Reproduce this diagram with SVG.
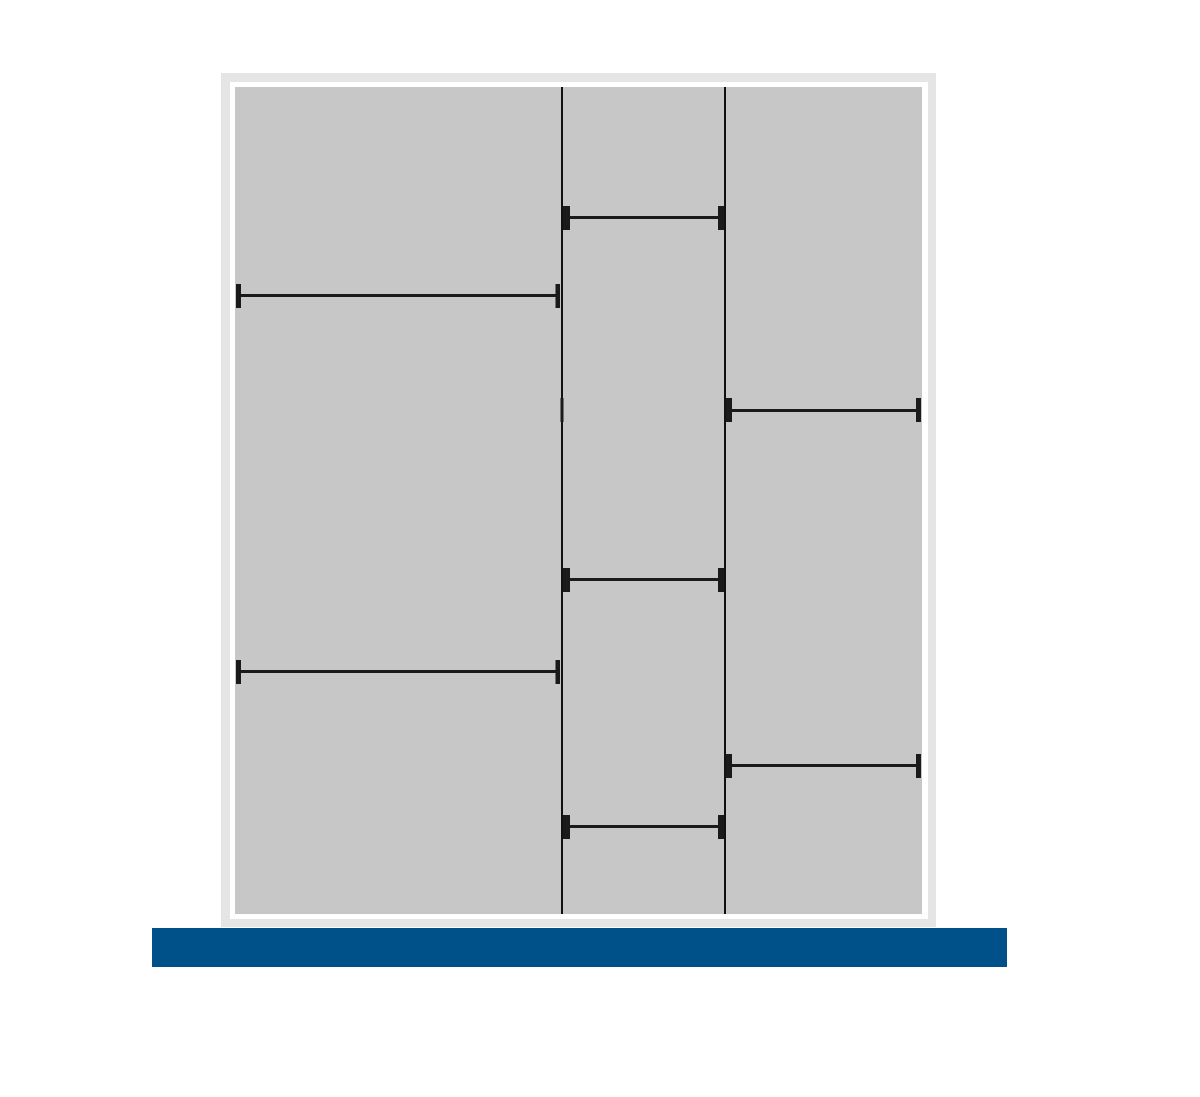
<svg xmlns="http://www.w3.org/2000/svg" width="1200" height="1097" viewBox="0 0 1200 1097">
<style>
.cap{fill:#1a1a1a}
.bar{stroke:#1a1a1a;stroke-width:3}
.wall{stroke:#111;stroke-width:2}
</style>
<rect width="1200" height="1097" fill="#fff"/>
<g id="frame">
<rect x="221" y="73" width="715" height="854" fill="#e5e5e5"/>
<rect x="230" y="82" width="698" height="837" fill="#fff"/>
<rect x="235" y="87" width="687" height="827" fill="#c6c7c6"/>
</g>
<g id="walls">
<line class="wall" x1="562" y1="87" x2="562" y2="914"/>
<line class="wall" x1="725" y1="87" x2="725" y2="914"/>
<rect x="560.5" y="398" width="3" height="24" class="cap"/>
</g>
<g id="dividers">
<line class="bar" x1="239" y1="295.5" x2="558" y2="295.5"/>
<rect class="cap" x="236" y="284" width="5" height="24"/>
<rect class="cap" x="555.5" y="284" width="4.5" height="24"/>
<line class="bar" x1="239" y1="671.5" x2="558" y2="671.5"/>
<rect class="cap" x="236" y="660" width="5" height="24"/>
<rect class="cap" x="555.5" y="660" width="4.5" height="24"/>
<line class="bar" x1="566" y1="217.5" x2="721" y2="217.5"/>
<rect class="cap" x="563" y="206" width="7" height="24"/>
<rect class="cap" x="718" y="206" width="6" height="24"/>
<line class="bar" x1="566" y1="579.5" x2="721" y2="579.5"/>
<rect class="cap" x="563" y="568" width="7" height="24"/>
<rect class="cap" x="718" y="568" width="6" height="24"/>
<line class="bar" x1="566" y1="826.5" x2="721" y2="826.5"/>
<rect class="cap" x="563" y="815" width="7" height="24"/>
<rect class="cap" x="718" y="815" width="6" height="24"/>
<line class="bar" x1="729" y1="410.5" x2="918" y2="410.5"/>
<rect class="cap" x="726" y="398" width="6" height="24"/>
<rect class="cap" x="916" y="398" width="5" height="24"/>
<line class="bar" x1="729" y1="765.5" x2="918" y2="765.5"/>
<rect class="cap" x="726" y="754" width="6" height="24"/>
<rect class="cap" x="916" y="754" width="5" height="24"/>
</g>
<g id="base">
<rect x="152" y="928" width="855" height="39" fill="#00508a"/>
</g>
</svg>
